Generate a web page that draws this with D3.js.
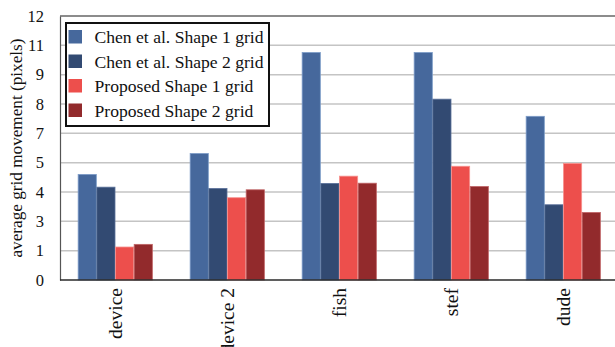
<!DOCTYPE html>
<html>
<head>
<meta charset="utf-8">
<script src="https://cdn.jsdelivr.net/npm/d3@7/dist/d3.min.js"></script>
<style>
  html, body { margin: 0; padding: 0; background: #fff; }
  svg { display: block; font-family: "Liberation Serif", "Times New Roman", serif; }
</style>
</head>
<body>
<svg id="chart" width="615" height="347"></svg>
<script>
// Data: average grid movement per scene, four methods
const categories = ["device", "device 2", "fish", "stef", "dude"];
const seriesNames = [
  "Chen et al. Shape 1 grid",
  "Chen et al. Shape 2 grid",
  "Proposed Shape 1 grid",
  "Proposed Shape 2 grid"
];
const chenShape1 = [4.80, 5.75, 10.34, 10.34, 7.44];
const chenShape2 = [4.22, 4.16, 4.39, 8.22, 3.42];
const propShape1 = [1.50, 3.74, 4.72, 5.17, 5.30];
const propShape2 = [1.62, 4.10, 4.40, 4.25, 3.07];
const seriesValues = [chenShape1, chenShape2, propShape1, propShape2];
const colors = ["#46689c", "#324a72", "#ed4f4c", "#922a2c"];
const strokes = ["#7d9cc8", "#5a719a", "#f7918e", "#c06466"];
// Axis 0..12 split into nine intervals, labels rounded to integers
const yMax = 12;
const tickValues = d3.range(10).map(i => i * yMax / 9);

const svg = d3.select("#chart");
const margin = { left: 60, top: 16, bottom: 280 };

const x0 = d3.scaleBand().domain(categories).range([59, 619]).paddingInner(0.333).paddingOuter(0.1665);
const x1 = d3.scaleBand().domain(d3.range(seriesNames.length)).range([0, x0.bandwidth()]);
const y = d3.scaleLinear().domain([0, yMax]).range([margin.bottom, margin.top]);

// Horizontal grid lines
svg.append("g")
  .selectAll("line")
  .data(tickValues.slice(1, -1))
  .join("line")
  .attr("x1", margin.left).attr("x2", 615)
  .attr("y1", d => y(d)).attr("y2", d => y(d))
  .attr("stroke", "#c4c4c4").attr("stroke-width", 1.5);

// Top frame line
svg.append("line")
  .attr("x1", margin.left).attr("x2", 615)
  .attr("y1", y(yMax)).attr("y2", y(yMax))
  .attr("stroke", "#8c8c8c").attr("stroke-width", 2);

// Bars
const groups = svg.append("g")
  .selectAll("g")
  .data(categories)
  .join("g")
  .attr("transform", d => `translate(${x0(d)},0)`);

groups.selectAll("rect")
  .data((c, ci) => seriesValues.map((vals, si) => ({ si, v: vals[ci] })))
  .join("rect")
  .attr("x", d => x1(d.si) + 0.5)
  .attr("width", x1.bandwidth() - 0.5)
  .attr("y", d => y(d.v))
  .attr("height", d => y(0) - y(d.v))
  .attr("fill", d => colors[d.si])
  .attr("stroke", d => strokes[d.si])
  .attr("stroke-width", 0.8);

// Y axis
const yAxis = d3.axisLeft(y)
  .tickValues(tickValues)
  .tickFormat(d => Math.round(d))
  .tickSize(0)
  .tickPadding(16);
const yg = svg.append("g").attr("transform", `translate(${margin.left},0)`).call(yAxis);
yg.select(".domain").attr("stroke", "#555").attr("stroke-width", 1.2);
yg.selectAll("text").attr("font-size", 16.5).attr("fill", "#111")
  .attr("font-family", "Liberation Serif, serif");

// X axis baseline and rotated category labels
svg.append("line")
  .attr("x1", margin.left).attr("x2", 615)
  .attr("y1", y(0)).attr("y2", y(0))
  .attr("stroke", "#2a2a2a").attr("stroke-width", 1.5);

svg.append("g")
  .selectAll("text")
  .data(categories)
  .join("text")
  .attr("transform", d => `translate(${x0(d) + x0.bandwidth() / 2 + 7},288) rotate(-90)`)
  .attr("text-anchor", "end")
  .attr("font-size", 19.5)
  .attr("fill", "#111")
  .text(d => d);

// Y axis title
svg.append("text")
  .attr("transform", `translate(22,148) rotate(-90)`)
  .attr("text-anchor", "middle")
  .attr("font-size", 17.2)
  .attr("fill", "#111")
  .text("average grid movement (pixels)");

// Legend
const legend = svg.append("g").attr("transform", "translate(66,23)");
legend.append("rect")
  .attr("x", 0).attr("y", 0).attr("width", 203).attr("height", 103)
  .attr("fill", "#fff").attr("stroke", "#111").attr("stroke-width", 2);
const rows = legend.selectAll("g.row")
  .data(seriesNames)
  .join("g")
  .attr("class", "row")
  .attr("transform", (d, i) => `translate(0,${14 + i * 24.5})`);
rows.append("rect")
  .attr("x", 2.5).attr("y", -7).attr("width", 13.5).attr("height", 13.5)
  .attr("fill", (d, i) => colors[i]);
rows.append("text")
  .attr("x", 28.5).attr("y", 6)
  .attr("font-size", 17.6)
  .attr("fill", "#111")
  .text(d => d);
</script>
</body>
</html>
